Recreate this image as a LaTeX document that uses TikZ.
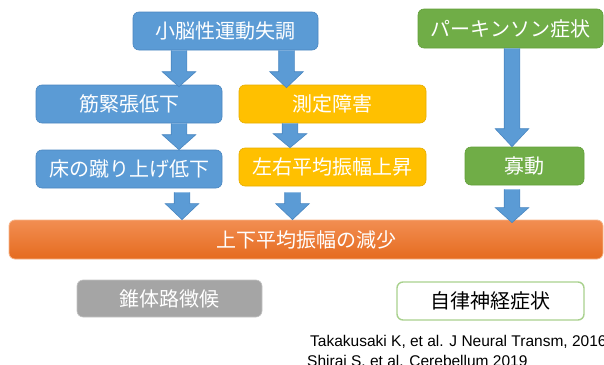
\documentclass[tikz,border=0pt]{standalone}
\usepackage{fontspec}
\newfontfamily\jp{Noto Sans CJK JP}
\newfontfamily\refont{Liberation Sans}
\usetikzlibrary{calc}
\definecolor{bfill}{HTML}{5B9BD5}
\definecolor{bdraw}{HTML}{4A86C0}
\definecolor{yfill}{HTML}{FFC000}
\definecolor{ydraw}{HTML}{E6AD00}
\definecolor{gfill}{HTML}{70AD47}
\definecolor{gdraw}{HTML}{62A03A}
\definecolor{grfill}{HTML}{A5A5A5}
\definecolor{grdraw}{HTML}{C4C4C4}
\definecolor{lgdraw}{HTML}{A9D18E}
\definecolor{otop}{HTML}{F28E52}
\definecolor{obot}{HTML}{E56B1F}
\definecolor{odraw}{HTML}{F6B48A}
\tikzset{
  box/.style={rounded corners=6pt, line width=0.6pt, inner sep=0pt,
    font=\jp\fontsize{20}{24}\selectfont, text=white},
  bluebox/.style={box, fill=bfill, draw=bdraw},
  yelbox/.style={box, fill=yfill, draw=ydraw},
  grnbox/.style={box, fill=gfill, draw=gdraw},
  graybox/.style={box, fill=grfill, draw=grdraw},
  outbox/.style={box, fill=white, draw=lgdraw, line width=1.4pt, text=black},
  barbox/.style={box, top color=otop, bottom color=obot, draw=odraw, line width=0.8pt},
  arrowfill/.style={fill=bfill},
  arrowline/.style={draw=bdraw, line width=0.6pt, line join=miter},
  reftext/.style={font=\refont\fontsize{15.5}{18}\selectfont, anchor=base west, inner sep=0pt}
}
% #1 x (pt), #2 source node, #3 start offset below source, #4 target node,
% #5 tip offset below target top, #6 head length
\newcommand\blockarrow[6]{%
  \fill[arrowfill] let \p1=(#2.south), \p2=(#4.north) in
    (#1pt-7.8pt,\y1-#3pt) -- (#1pt+7.8pt,\y1-#3pt) -- (#1pt+7.8pt,\y2-#5pt+#6pt)
    -- (#1pt+16.8pt,\y2-#5pt+#6pt) -- (#1pt,\y2-#5pt) -- (#1pt-16.8pt,\y2-#5pt+#6pt)
    -- (#1pt-7.8pt,\y2-#5pt+#6pt) -- cycle;
  \draw[arrowline] let \p1=(#2.south), \p2=(#4.north) in
    (#1pt-7.8pt,\y1-#3pt) -- (#1pt-7.8pt,\y2-#5pt+#6pt) -- (#1pt-16.8pt,\y2-#5pt+#6pt)
    -- (#1pt,\y2-#5pt) -- (#1pt+16.8pt,\y2-#5pt+#6pt) -- (#1pt+7.8pt,\y2-#5pt+#6pt)
    -- (#1pt+7.8pt,\y1-#3pt);
}
\begin{document}
\begin{tikzpicture}[x=1pt,y=-1pt]
\useasboundingbox (0,0) rectangle (604,364);
\clip (0,0) rectangle (604,364);

\node[bluebox, minimum width=185pt, minimum height=38pt] (top) at (225.5,31) {小脳性運動失調};
\node[bluebox, minimum width=186pt, minimum height=38pt] (kin) at (129,104) {筋緊張低下};
\node[bluebox, minimum width=186pt, minimum height=38pt] (yuka) at (129,169) {床の蹴り上げ低下};
\node[yelbox, minimum width=187pt, minimum height=38pt] (soku) at (332.5,104) {測定障害};
\node[yelbox, minimum width=187pt, minimum height=38pt] (sayu) at (332.5,167) {左右平均振幅上昇};
\node[grnbox, minimum width=185pt, minimum height=39pt] (park) at (510.5,28.5) {パーキンソン症状};
\node[grnbox, minimum width=119pt, minimum height=38pt] (kado) at (524.5,166) {寡動};
\node[barbox, minimum width=594pt, minimum height=39pt] (bar) at (306,239.5) {上下平均振幅の減少};
\node[graybox, minimum width=185pt, minimum height=37pt] (sui) at (169.5,298.5) {錐体路徴候};
\node[outbox, minimum width=187pt, minimum height=38pt] (auto) at (490.5,301) {自律神経症状};

\blockarrow{179}{top}{0}{kin}{2}{15}
\blockarrow{286.5}{top}{0}{soku}{3}{16}
\blockarrow{179}{kin}{0}{yuka}{0}{15}
\blockarrow{290}{soku}{0}{sayu}{0}{14}
\blockarrow{182}{yuka}{4}{bar}{0}{16}
\blockarrow{292.5}{sayu}{6}{bar}{0}{16}
\blockarrow{512}{park}{0}{kado}{0}{18}
\blockarrow{512}{kado}{4}{bar}{3}{15}

\node[reftext] (ref1) at (310,346.5) {Takakusaki K, et al. J Neural Transm, 2016};
\node[reftext] (ref2) at (307,366) {Shirai S. et al. Cerebellum 2019};
\end{tikzpicture}
\end{document}
